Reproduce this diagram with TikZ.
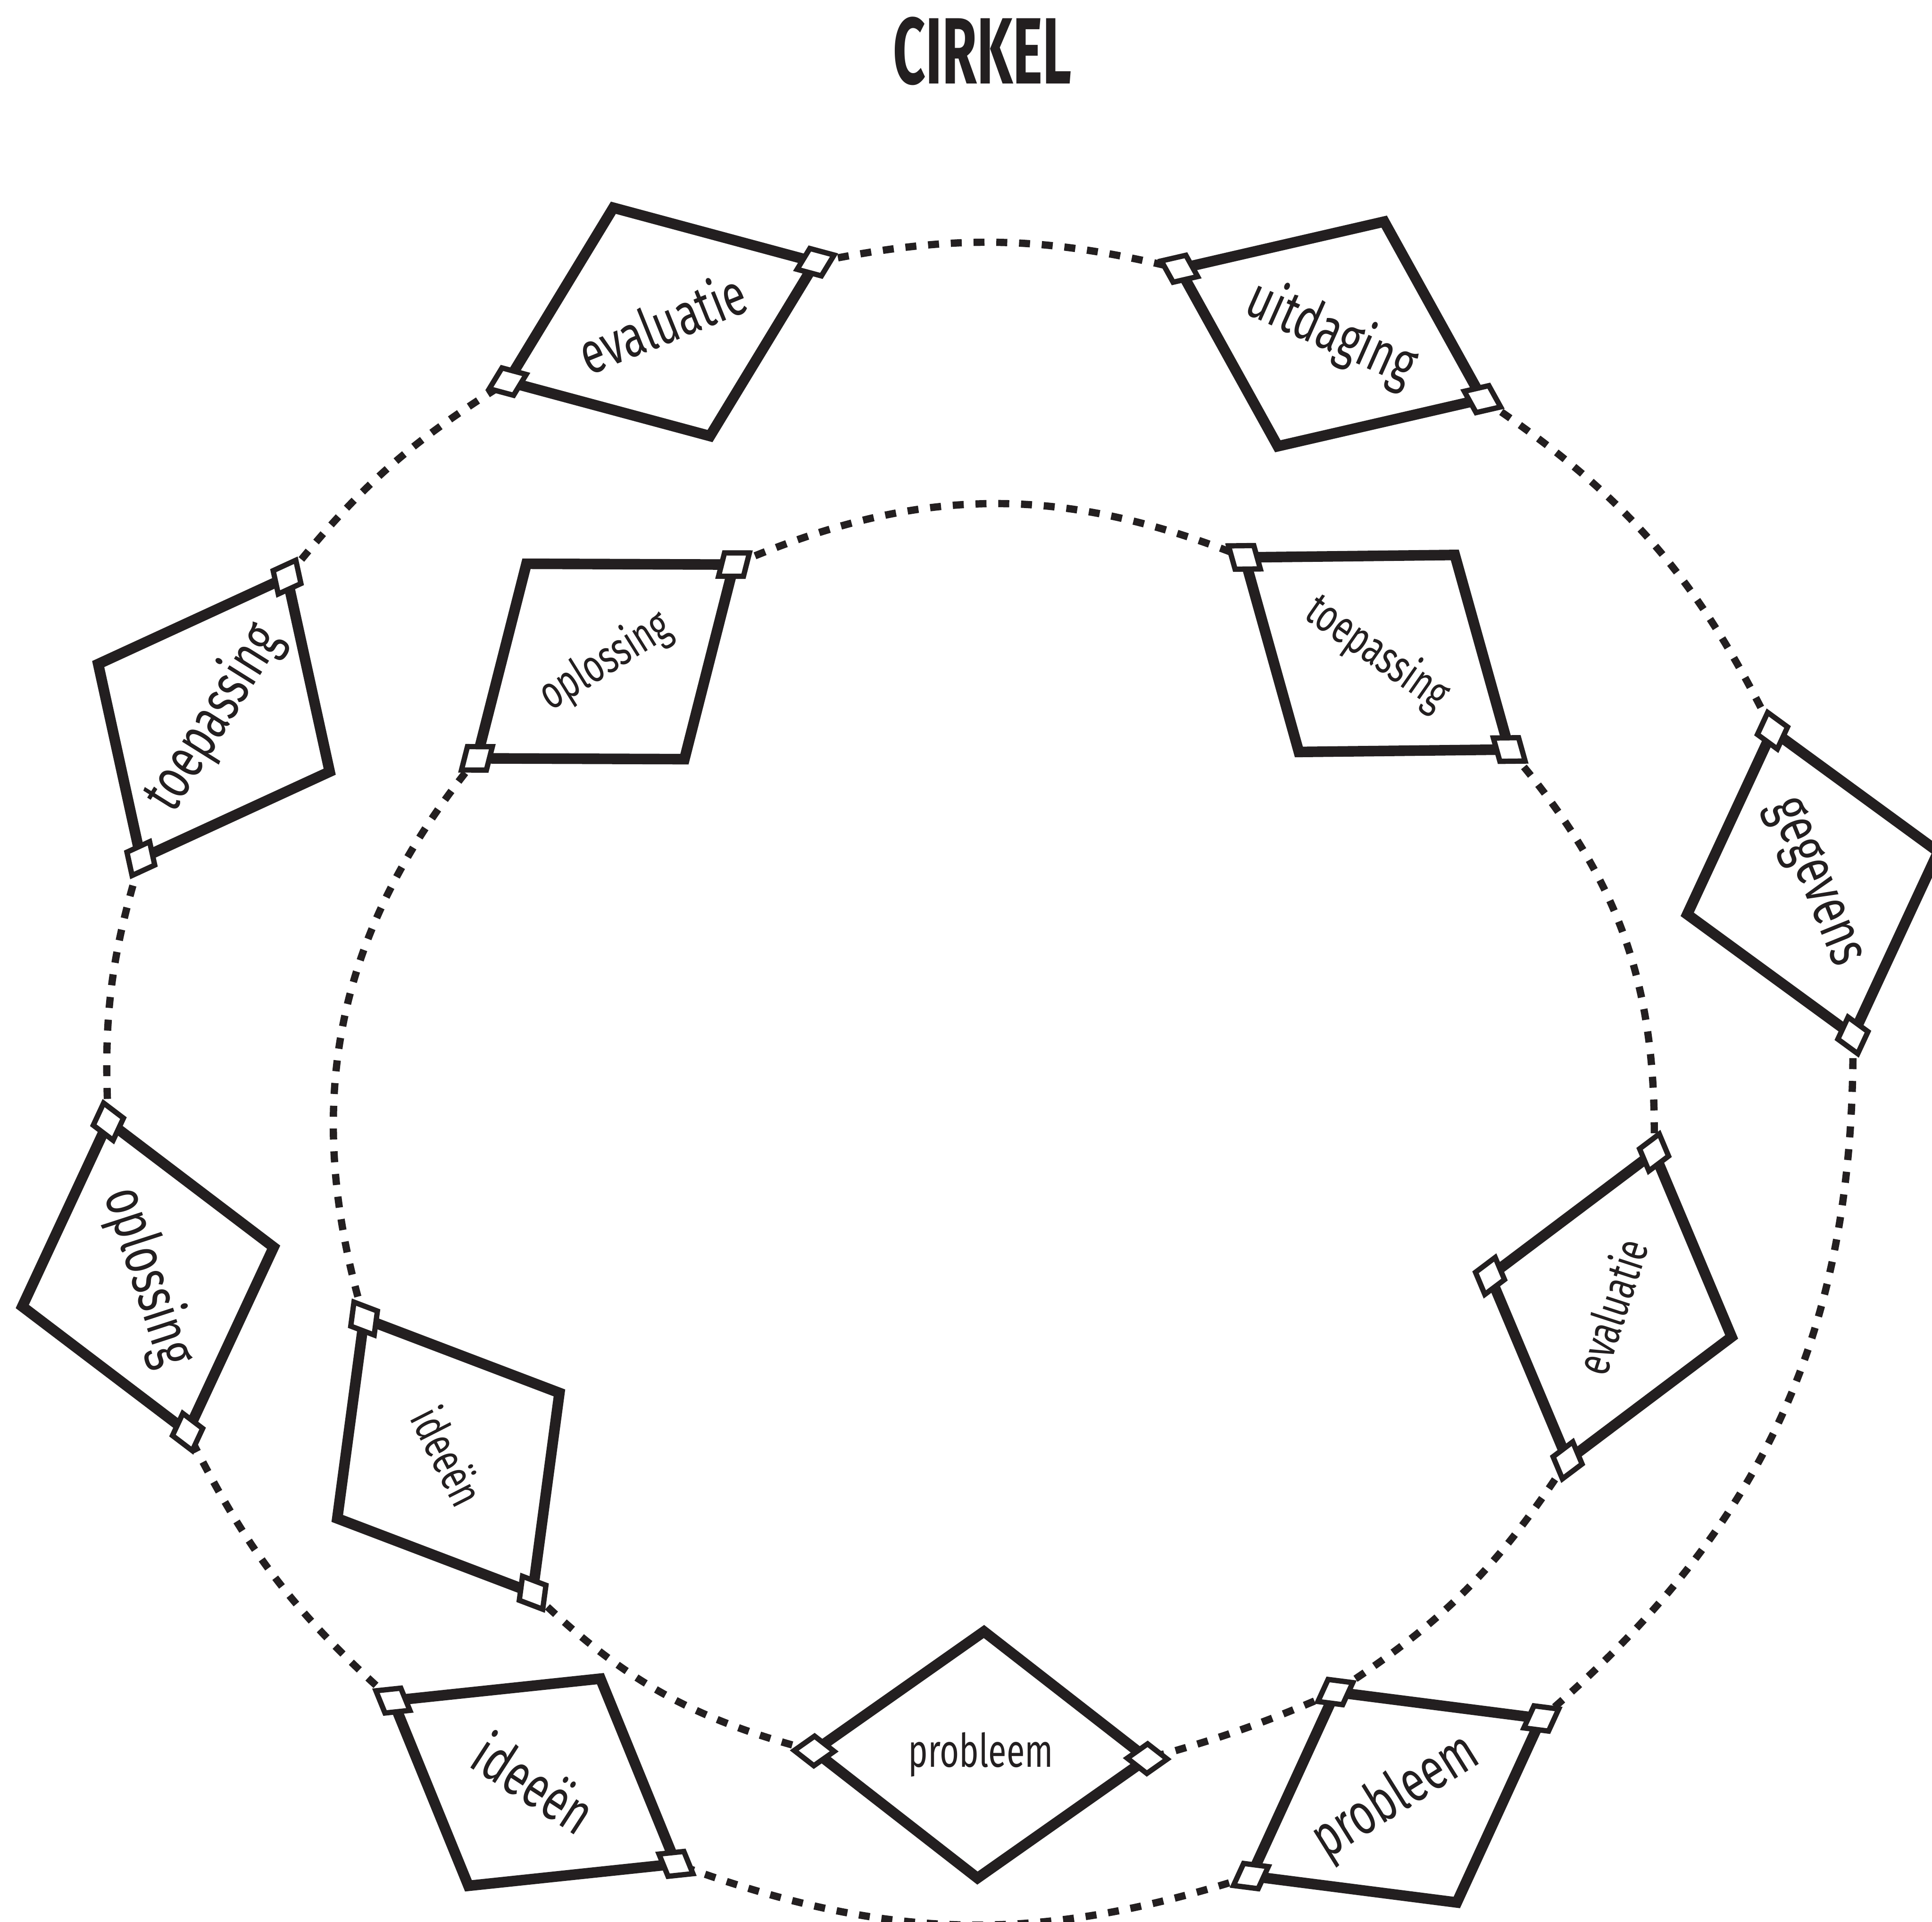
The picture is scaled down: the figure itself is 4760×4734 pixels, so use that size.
\documentclass[tikz,border=0pt]{standalone}
\usepackage{fontspec}
\setmainfont{Fira Sans}
\usetikzlibrary{backgrounds}
\definecolor{ink}{HTML}{231F20}
\tikzset{
  bigshape/.style={draw=ink, line width=7.4pt, fill=white, line join=miter},
  smallsq/.style={draw=ink, line width=3.7pt, fill=white, line join=miter},
  ring/.style={draw=ink, line width=5.1pt, dash pattern=on 7.7pt off 8.25pt},
  outerlabel/.style={font=\fontsize{41}{41}\selectfont, text=ink, inner sep=0pt, xscale=0.72},
  innerlabel/.style={font=\fontsize{32.4}{32.4}\selectfont, text=ink, inner sep=0pt, xscale=0.72},
  titlelabel/.style={font=\fontsize{66}{66}\selectfont\bfseries, text=ink, inner sep=0pt, xscale=0.6},
}
\newcommand\sq[3]{%
  \coordinate (#1) at (#2,#3);
  \draw[smallsq, shift={(#2,#3)}] (-0.06,-0.06) -- (0.06,-0.06) -- (0.06,0.06) -- (-0.06,0.06) -- cycle;}
\newcommand\body{\draw[bigshape] (0,0) -- (1,0) -- (1,1) -- (0,1) -- cycle;}
\begin{document}
\begin{tikzpicture}[x=0.01cm, y=-0.01cm]
\useasboundingbox (0,0) rectangle (4760,4734);

\node[titlelabel] (title) at (2420,126) {CIRKEL};

% ---------- outer ring ----------
% evaluatie (top left)
\begin{scope}[shift={(1251,940)}, x={(2.60cm,4.28cm)}, y={(4.98cm,-1.34cm)}]
  \body \sq{oevL}{0}{0} \sq{oevR}{1}{1}
  \node[rotate=22, outerlabel] (oevtext) at (0.5,0.5) {evaluatie};
\end{scope}
% uitdaging
\begin{scope}[shift={(2906,662)}, x={(5.04cm,1.16cm)}, y={(2.42cm,-4.37cm)}]
  \body \sq{ouiTL}{0}{0} \sq{ouiBR}{1}{1}
  \node[rotate=-24, outerlabel] (ouitext) at (0.5,0.5) {uitdaging};
\end{scope}
% gegevens
\begin{scope}[shift={(4367,1800)}, x={(4.08cm,-2.98cm)}, y={(-2.10cm,-4.52cm)}]
  \body \sq{ogeT}{0}{0} \sq{ogeB}{1}{1}
  \node[rotate=-68, outerlabel] (ogetext) at (0.5,0.5) {gegevens};
\end{scope}
% probleem (bottom right)
\begin{scope}[shift={(3290,4168)}, x={(5.07cm,-0.65cm)}, y={(-2.08cm,-4.53cm)}]
  \body \sq{oprTL}{0}{0} \sq{oprTR}{1}{0} \sq{oprBL}{0}{1}
  \node[rotate=32, outerlabel] (oprtext) at (0.5,0.5) {probleem};
\end{scope}
% ideeen (bottom left)
\begin{scope}[shift={(968,4189)}, x={(5.11cm,0.54cm)}, y={(1.86cm,-4.56cm)}]
  \body \sq{oidTL}{0}{0} \sq{oidBR}{1}{1}
  \node[rotate=-33, outerlabel] (oidtext) at (0.5,0.5) {ideeën};
\end{scope}
% oplossing (left)
\begin{scope}[shift={(267,2763)}, x={(4.07cm,-3.09cm)}, y={(-2.12cm,-4.55cm)}]
  \body \sq{oopT}{0}{0} \sq{oopBR}{1}{1}
  \node[rotate=-72, outerlabel] (ooptext) at (0.5,0.5) {oplossing};
\end{scope}
% toepassing (upper left)
\begin{scope}[shift={(347,2115)}, x={(-1.05cm,4.79cm)}, y={(4.65cm,2.14cm)}]
  \body \sq{otoBL}{0}{0} \sq{otoTR}{1}{1}
  \node[rotate=58, outerlabel] (ototext) at (0.5,0.5) {toepassing};
\end{scope}

% ---------- inner ring ----------
% oplossing
\begin{scope}[shift={(1175,1868)}, x={(1.22cm,4.79cm)}, y={(5.11cm,-0.02cm)}]
  \body \sq{iopBL}{0}{0} \sq{iopTR}{1}{1}
  \node[rotate=32, innerlabel] (ioptext) at (0.5,0.5) {oplossing};
\end{scope}
% toepassing
\begin{scope}[shift={(3066,1373)}, x={(5.18cm,0.06cm)}, y={(1.34cm,-4.79cm)}]
  \body \sq{itoTL}{0}{0} \sq{itoBR}{1}{1}
  \node[rotate=-35, innerlabel] (itotext) at (0.5,0.5) {toepassing};
\end{scope}
% evaluatie
\begin{scope}[shift={(3671,3143)}, x={(4.04cm,3.04cm)}, y={(1.91cm,-4.54cm)}]
  \body \sq{ievL}{0}{0} \sq{ievT}{1}{0} \sq{ievB}{0}{1}
  \node[rotate=72, innerlabel] (ievtext) at (0.5,0.5) {evaluatie};
\end{scope}
% ideeen
\begin{scope}[shift={(897,3248)}, x={(4.81cm,-1.83cm)}, y={(-0.66cm,-4.92cm)}]
  \body \sq{iidTL}{0}{0} \sq{iidBR}{1}{1}
  \node[rotate=-63, innerlabel] (iidtext) at (0.5,0.5) {ideeën};
\end{scope}
% probleem (diamond)
\begin{scope}[shift={(2006,4313)}, x={(4.18cm,2.94cm)}, y={(4.02cm,-3.13cm)}]
  \body \sq{iprL}{0}{0} \sq{iprR}{1}{1}
  \node[innerlabel] (iprtext) at (0.5,0.5) {probleem};
\end{scope}

% ---------- dotted connectors ----------
\begin{pgfonlayer}{background}
  \fill[white] (0,0) rectangle (4760,4734);
  \draw[ring] (oevR) to[bend left=12.5] (ouiTL);
  \draw[ring] (ouiBR) to[bend left=15] (ogeT);
  \draw[ring] (ogeB) to[bend left=25] (oprTR);
  \draw[ring] (oprBL) to[bend left=19] (oidBR);
  \draw[ring] (oidTL) to[bend left=11] (oopBR);
  \draw[ring] (oopT) to[bend left=10] (otoBL);
  \draw[ring] (otoTR) to[bend left=9.8] (oevL);
  \draw[ring] (iopTR) to[bend left=22.5] (itoTL);
  \draw[ring] (itoBR) to[bend left=21] (ievT);
  \draw[ring] (ievB) to[bend left=12] (oprTL);
  \draw[ring] (oprTL) to[bend left=4] (iprR);
  \draw[ring] (iprL) to[bend left=14.7] (iidBR);
  \draw[ring] (iidTL) to[bend left=28] (iopBL);
\end{pgfonlayer}
\end{tikzpicture}
\end{document}
